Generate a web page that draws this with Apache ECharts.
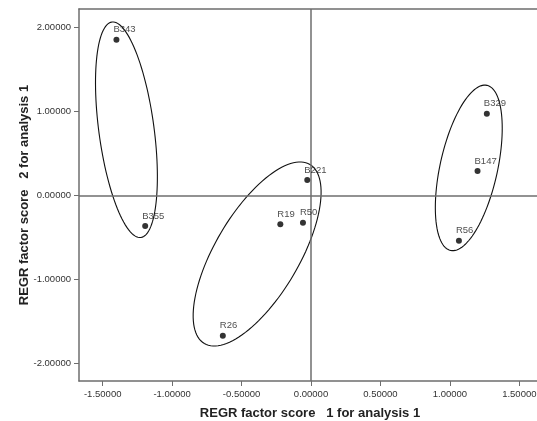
<!DOCTYPE html>
<html>
<head>
<meta charset="utf-8">
<script src="https://cdn.jsdelivr.net/npm/echarts@6/dist/echarts.min.js"></script>
<style>html,body{margin:0;padding:0;background:#fff;}#chart{width:537px;height:421px;}</style>
</head>
<body>
<div id="chart"></div>
<script>
// Case labels and factor scores
const caseLabels = ['B343', 'B355', 'R26', 'R19', 'R50', 'B221', 'B329', 'B147', 'R56'];
const factorScore1 = [-1.401, -1.194, -0.635, -0.221, -0.058, -0.027, 1.266, 1.199, 1.065];
const factorScore2 = [1.857, -0.363, -1.671, -0.343, -0.324, 0.185, 0.975, 0.292, -0.539];

// Tick values
const xTickValues = [-1.5, -1.0, -0.5, 0, 0.5, 1.0, 1.5];
const yTickValues = [-2, -1, 0, 1, 2];

// Group ellipses: centre, tip of the long axis, short/long axis ratio
const ellipseCenterX = [-1.329, -0.388, 1.136];
const ellipseCenterY = [0.784, -0.697, 0.329];
const ellipseTipX = [-1.433, -0.008, 1.267];
const ellipseTipY = [2.068, 0.370, 1.313];
const ellipseRatio = [0.254, 0.404, 0.340];

const FONT = 'Liberation Sans, Arial, sans-serif';
const AXIS_COLOR = '#6e6e6e';

const points = caseLabels.map((l, i) => [factorScore1[i], factorScore2[i], l]);
const ellipses = ellipseCenterX.map((c, i) => [c, ellipseCenterY[i], ellipseTipX[i], ellipseTipY[i], ellipseRatio[i]]);

const chart = echarts.init(document.getElementById('chart'), null, {renderer: 'canvas'});
chart.setOption({
  animation: false,
  backgroundColor: '#fff',
  grid: {left: 79, top: 9, right: -4, bottom: 40, containLabel: false, outerBoundsMode: 'none'},
  xAxis: [{
    type: 'value', min: -1.6706, max: 1.656,
    name: 'REGR factor score   1 for analysis 1',
    nameLocation: 'middle', nameGap: 26, nameMoveOverlap: false,
    nameTextStyle: {fontFamily: FONT, fontSize: 13, fontWeight: 'bold', color: '#222'},
    axisLine: {show: true, onZero: false, lineStyle: {color: AXIS_COLOR, width: 1.5}},
    axisTick: {show: true, length: 5, customValues: xTickValues, lineStyle: {color: AXIS_COLOR}},
    axisLabel: {customValues: xTickValues, fontFamily: FONT, fontSize: 9.5, color: '#333', margin: 8,
      formatter: v => v.toFixed(5), showMinLabel: true, showMaxLabel: true},
    splitLine: {show: false}
  }, {
    type: 'value', position: 'top', min: -1.6706, max: 1.656,
    axisLine: {show: true, onZero: false, lineStyle: {color: AXIS_COLOR, width: 1.5}},
    axisTick: {show: false}, axisLabel: {show: false}, splitLine: {show: false}
  }],
  yAxis: {
    type: 'value', min: -2.211, max: 2.223,
    name: 'REGR factor score   2 for analysis 1',
    nameLocation: 'middle', nameGap: 48, nameMoveOverlap: false,
    nameTextStyle: {fontFamily: FONT, fontSize: 13, fontWeight: 'bold', color: '#222'},
    axisLine: {show: true, onZero: false, lineStyle: {color: AXIS_COLOR, width: 1.5}},
    axisTick: {show: true, length: 5, customValues: yTickValues, lineStyle: {color: AXIS_COLOR}},
    axisLabel: {customValues: yTickValues, fontFamily: FONT, fontSize: 9.5, color: '#333', margin: 8,
      formatter: v => v.toFixed(5)},
    splitLine: {show: false}
  },
  series: [{
    type: 'custom',
    xAxisIndex: 0, yAxisIndex: 0,
    silent: true,
    data: ellipses,
    renderItem: function (params, api) {
      const c = api.coord([api.value(0), api.value(1)]);
      const t = api.coord([api.value(2), api.value(3)]);
      const r = api.value(4);
      const ux = t[0] - c[0], uy = t[1] - c[1];
      const vx = -uy * r, vy = ux * r;
      const pts = [];
      const n = 120;
      for (let k = 0; k < n; k++) {
        const a = k / n * Math.PI * 2;
        pts.push([c[0] + ux * Math.cos(a) + vx * Math.sin(a), c[1] + uy * Math.cos(a) + vy * Math.sin(a)]);
      }
      return {type: 'polygon', shape: {points: pts}, style: {fill: 'none', stroke: '#111', lineWidth: 1.1}};
    }
  }, {
    type: 'scatter',
    xAxisIndex: 0, yAxisIndex: 0,
    data: points,
    symbol: 'circle',
    symbolSize: 6,
    itemStyle: {color: '#000'},
    label: {
      show: true, position: 'top', align: 'left', distance: 2, offset: [-3, 0],
      formatter: p => p.data[2],
      fontFamily: FONT, fontSize: 9.5, color: '#222'
    },
    markLine: {
      silent: true, symbol: 'none', label: {show: false},
      lineStyle: {color: AXIS_COLOR, width: 1.5, type: 'solid'},
      data: [{xAxis: 0}, {yAxis: 0}]
    },
    z: 5
  }]
});
</script>
</body>
</html>
